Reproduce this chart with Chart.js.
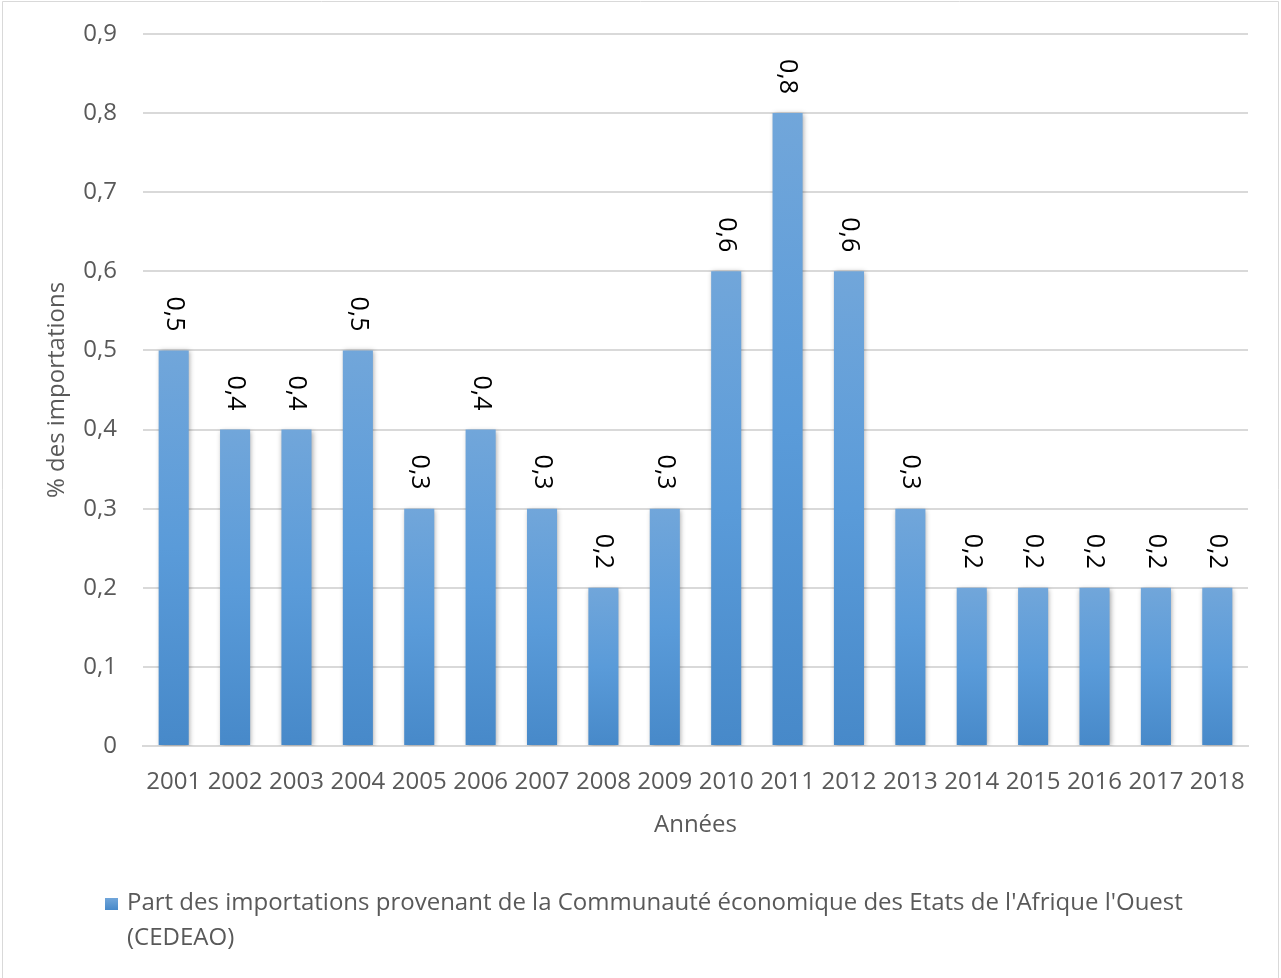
<!DOCTYPE html>
<html>
<head>
<meta charset="utf-8">
<script src="https://cdn.jsdelivr.net/npm/chart.js@4/dist/chart.umd.min.js"></script>
<style>
html,body{margin:0;padding:0;background:#fff;}
#wrap{position:relative;width:1281px;height:978px;}
canvas{display:block;}
</style>
</head>
<body>
<div id="wrap"><canvas id="c" width="1281" height="978"></canvas></div>
<script>
const categories = ["2001","2002","2003","2004","2005","2006","2007","2008","2009","2010","2011","2012","2013","2014","2015","2016","2017","2018"];
const shareValues = [0.5,0.4,0.4,0.5,0.3,0.4,0.3,0.2,0.3,0.6,0.8,0.6,0.3,0.2,0.2,0.2,0.2,0.2];
const seriesName = ["Part des importations provenant de la Communauté économique des Etats de l'Afrique l'Ouest", "(CEDEAO)"];
const yTitle = "% des importations";
const xTitle = "Années";

const FONT = "'Open Sans', 'Noto Sans', sans-serif";
const fmt = v => v === 0 ? "0" : Number(v).toFixed(1).replace('.', ',');

function barGradient(ctx){
  const chart = ctx.chart;
  const y = chart.scales && chart.scales.y;
  if (!y || ctx.parsed === undefined || !chart.chartArea) return '#5b9bd5';
  const top = y.getPixelForValue(ctx.parsed.y);
  const bottom = y.getPixelForValue(0);
  if (!isFinite(top) || !isFinite(bottom) || top === bottom) return '#5b9bd5';
  const g = chart.ctx.createLinearGradient(0, top, 0, bottom);
  g.addColorStop(0, '#71a6da');
  g.addColorStop(0.5, '#5a9bd9');
  g.addColorStop(1, '#4789c9');
  return g;
}

const framePlugin = {
  id: 'frame',
  beforeDraw(chart){
    const c = chart.ctx;
    c.save();
    c.fillStyle = '#fff';
    c.fillRect(0,0,chart.width,chart.height);
    c.strokeStyle = '#d9d9d9';
    c.lineWidth = 1;
    c.beginPath();
    c.moveTo(2.5, chart.height);
    c.lineTo(2.5, 1.5);
    c.lineTo(1278.5, 1.5);
    c.lineTo(1278.5, chart.height);
    c.stroke();
    c.restore();
  }
};

const shadowPlugin = {
  id: 'barShadow',
  beforeDatasetsDraw(chart){
    const c = chart.ctx;
    c.save();
    c.shadowColor = 'rgba(0,0,0,0.35)';
    c.shadowBlur = 5;
    c.shadowOffsetX = 1;
    c.shadowOffsetY = 1;
  },
  afterDatasetsDraw(chart){
    chart.ctx.restore();
  }
};

const labelPlugin = {
  id: 'valueLabels',
  afterDatasetsDraw(chart){
    const c = chart.ctx;
    const meta = chart.getDatasetMeta(0);
    c.save();
    c.fillStyle = '#000';
    c.font = "25px " + FONT;
    c.textAlign = 'right';
    c.textBaseline = 'middle';
    meta.data.forEach((bar, i) => {
      c.save();
      c.translate(bar.x, bar.y - 19);
      c.rotate(Math.PI/2);
      c.fillText(fmt(shareValues[i]), 0, 0);
      c.restore();
    });
    c.restore();
  }
};

const legendPlugin = {
  id: 'customLegend',
  afterDraw(chart){
    const c = chart.ctx;
    c.save();
    const g = c.createLinearGradient(0, 898, 0, 910);
    g.addColorStop(0, '#71a6da');
    g.addColorStop(1, '#4789c9');
    c.fillStyle = g;
    c.fillRect(105, 898, 13, 12);
    c.fillStyle = '#595959';
    c.font = "24px " + FONT;
    c.textAlign = 'left';
    c.textBaseline = 'alphabetic';
    c.fillText(seriesName[0], 127, 910);
    c.fillText(seriesName[1], 127, 945);
    c.restore();
  }
};

new Chart(document.getElementById('c'), {
  type: 'bar',
  data: {
    labels: categories,
    datasets: [{
      label: seriesName.join(' '),
      data: shareValues,
      backgroundColor: barGradient,
      borderWidth: 0,
      barPercentage: 0.49,
      categoryPercentage: 1
    }]
  },
  options: {
    responsive: false,
    animation: false,
    devicePixelRatio: 1,
    layout: { padding: { left: 0, right: 33, top: 34, bottom: 138.6 } },
    plugins: { legend: { display: false }, tooltip: { enabled: false } },
    scales: {
      x: {
        afterFit: s => { s.height = 93.4; },
        grid: { display: false, drawTicks: false },
        border: { display: true, color: '#d9d9d9', width: 2 },
        ticks: { color: '#595959', font: { family: FONT, size: 24 }, padding: 22, maxRotation: 0, autoSkip: false },
        title: { display: true, text: xTitle, color: '#595959', font: { family: FONT, size: 24 }, padding: { top: 0, bottom: 0 } }
      },
      y: {
        min: 0, max: 0.9,
        afterFit: s => { s.width = 143; s.paddingTop = 0; s.paddingBottom = 0; },
        grid: { color: '#d9d9d9', lineWidth: 2, drawTicks: false },
        border: { display: false },
        ticks: { stepSize: 0.1, color: '#595959', font: { family: FONT, size: 24 }, padding: 26, callback: v => fmt(Math.round(v*10)/10) },
        title: { display: true, text: yTitle, color: '#595959', font: { family: FONT, size: 24 }, padding: { top: 43, bottom: 0 } }
      }
    }
  },
  plugins: [framePlugin, shadowPlugin, labelPlugin, legendPlugin]
});
</script>
</body>
</html>
